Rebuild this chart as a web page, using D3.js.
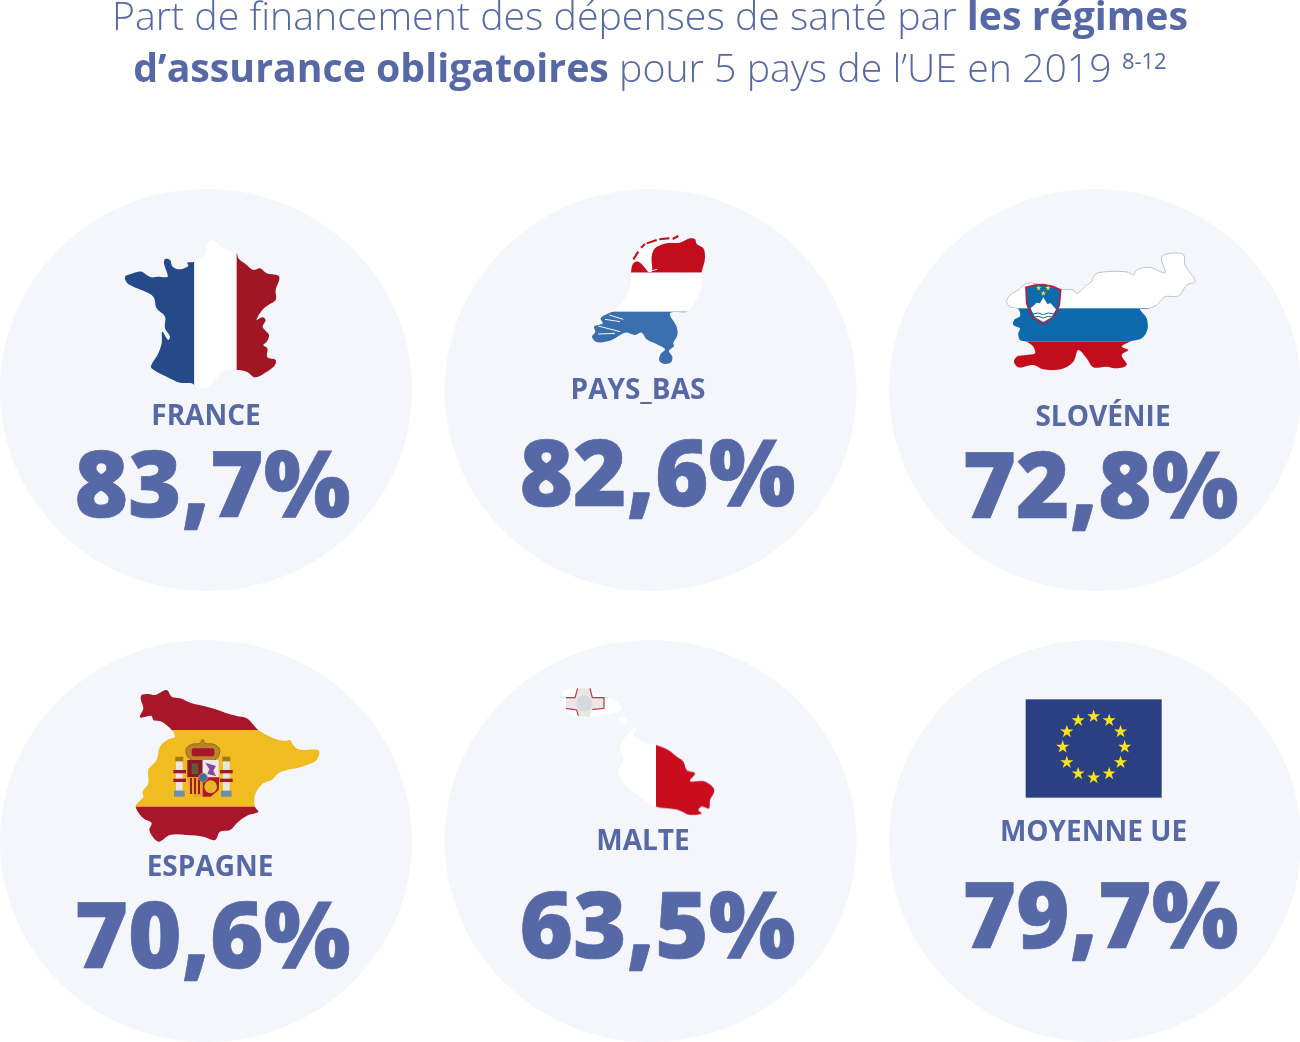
<!DOCTYPE html>
<html lang="fr"><head><meta charset="utf-8">
<script src="https://cdn.jsdelivr.net/npm/d3@7"></script>
<style>html,body{margin:0;padding:0;background:#fff}svg{display:block}text{font-family:"Open Sans",sans-serif}</style>
</head><body><div id="chart"></div>
<script>
// ---------- data ----------
const countries = ["FRANCE","PAYS_BAS","SLOVÉNIE","ESPAGNE","MALTE","MOYENNE UE"];
const shares = [83.7,82.6,72.8,70.6,63.5,79.7];
const titleLine1 = [["Part de financement des dépenses de santé par ",300],["les régimes",700]];
const titleLine2 = [["d’assurance obligatoires",700],[" pour 5 pays de l’UE en 2019 ",300]];
const titleRef = "8-12";

// ---------- layout (separate from the data) ----------
const W=1300,H=1042, INK="#5669a6", DISC="#f4f6fb";
const col=d3.scalePoint().domain([0,1,2]).range([206,1095]);
const row=d3.scalePoint().domain([0,1]).range([390,841]);
const labelPos=[[206,425],[638,399],[1103,426],[210,876],[643,850],[1093.5,841]];
const valuePos=[[212.5,517],[657.5,506],[1100.5,518],[212.5,968],[657.5,958],[1100.5,948]];

// ---------- silhouettes, traced in 3x crop space ----------
const franceOutline=[[75,170],[90,163],[125,155],[140,165],[155,172],[175,170],[195,172],[203,170],[192,130],[195,117],[210,120],[218,140],[240,148],[265,137],[262,128],[283,125],[318,100],[320,72],[340,60],[355,72],[375,88],[410,100],[415,115],[440,135],[460,150],[480,145],[500,160],[538,170],[527,210],[527,240],[505,255],[485,272],[470,300],[488,292],[497,300],[488,320],[507,345],[500,365],[490,375],[502,385],[502,412],[527,420],[525,435],[490,462],[465,472],[440,455],[410,450],[370,455],[345,480],[320,505],[290,500],[275,490],[240,488],[200,470],[165,452],[153,442],[175,400],[185,370],[187,335],[205,360],[210,350],[195,325],[195,290],[170,265],[160,230],[130,212],[100,200],[82,190]];
const nlOutline=[[183,158],[190,130],[205,125],[222,140],[235,155],[245,155],[245,110],[255,85],[290,70],[330,68],[360,55],[375,58],[380,72],[400,85],[405,115],[395,158],[395,190],[385,225],[365,260],[350,275],[300,280],[320,320],[322,345],[310,370],[312,378],[297,393],[307,410],[303,427],[285,432],[268,422],[272,402],[285,388],[265,375],[230,358],[215,338],[195,345],[165,338],[125,360],[80,366],[66,350],[76,335],[72,320],[98,310],[92,295],[125,276],[135,272],[170,225],[183,190]];
const nlInland=[[205,125],[210,90],[250,80],[245,110],[245,155],[235,155],[222,140]];
const nlIslands=[[[190,118],[205,95]],[[213,83],[225,72]],[[230,70],[260,60]],[[268,58],[298,55]],[[308,57],[325,48]]];
const nlWater=[[[105,298],[150,305]],[[118,285],[160,298]],[[85,318],[150,335]],[[85,342],[135,340]],[[235,155],[262,148]]];
const siOutline=[[50,185],[60,165],[85,150],[110,130],[150,133],[210,148],[250,150],[260,160],[290,135],[305,125],[315,103],[350,95],[415,97],[430,105],[440,90],[480,82],[525,98],[515,50],[580,43],[585,75],[615,125],[590,135],[570,165],[555,170],[525,170],[500,195],[470,207],[450,207],[470,235],[472,270],[455,295],[420,305],[395,320],[415,330],[395,345],[410,375],[380,385],[350,380],[310,382],[290,355],[265,330],[250,365],[215,387],[160,388],[130,375],[85,382],[72,365],[80,350],[110,345],[135,340],[130,320],[110,305],[90,300],[85,280],[90,265],[70,255],[72,240],[90,228],[85,207],[60,200]];
const siShield=[[108,142],[135,135],[160,134],[190,140],[212,150],[208,195],[195,225],[160,253],[125,230],[110,190]];
const siPeak=[[122,205],[140,188],[150,190],[160,172],[172,192],[182,190],[198,208],[185,232],[160,246],[135,232]];
const esOutline=[[65,45],[85,42],[105,45],[140,30],[155,50],[180,55],[215,70],[260,80],[300,92],[320,100],[350,108],[380,115],[415,150],[440,165],[470,178],[495,183],[510,180],[520,195],[535,208],[597,212],[590,240],[560,255],[530,265],[500,270],[475,280],[455,300],[430,310],[405,345],[405,380],[415,395],[385,405],[355,425],[330,450],[300,455],[285,480],[250,470],[200,465],[150,465],[115,485],[88,450],[95,430],[70,415],[48,385],[48,375],[70,350],[68,335],[85,310],[85,270],[110,240],[120,200],[145,178],[165,170],[155,150],[125,125],[100,120],[95,108],[60,112],[70,85],[62,55]];
const esCrown=[[198,208],[215,193],[240,190],[248,178],[256,190],[282,193],[299,208],[288,238],[210,238]];
const mtMain=[[195,215],[225,170],[245,155],[235,180],[265,200],[303,210],[340,225],[365,245],[385,260],[395,285],[420,295],[405,318],[450,320],[478,345],[465,375],[462,400],[440,395],[430,405],[440,415],[405,420],[370,405],[303,395],[260,370],[215,335],[190,290],[205,255]];
const mtComino=[[190,130],[210,128],[218,140],[200,148]];
const mtGozo=[[25,50],[60,40],[150,65],[185,80],[200,105],[170,115],[120,125],[60,125],[30,100]];
const mtCross=[[68,40],[105,40],[110,68],[147,68],[147,100],[110,105],[105,125],[70,125],[65,105],[33,100],[33,68],[60,68]];
const mtCrossRed=[[[33,68],[60,68],[68,40]],[[105,40],[112,68],[147,68],[147,100],[112,104]],[[33,100],[65,105],[70,122]]];

const svg=d3.select("#chart").append("svg").attr("width",W).attr("height",H).attr("viewBox",[0,0,W,H]);
const defs=svg.append("defs");
defs.append("filter").attr("id","soft").attr("x","-5%").attr("y","-5%").attr("width","110%").attr("height","110%")
  .append("feGaussianBlur").attr("stdDeviation",1.4);
const poly=d3.line().curve(d3.curveCatmullRomClosed.alpha(0.5)), open=d3.line();
const straight=d3.line().curve(d3.curveLinearClosed);

// discs
const idx=d3.range(countries.length);
svg.selectAll("ellipse.disc").data(idx).join("ellipse").attr("class","disc")
  .attr("cx",i=>col(i%3)).attr("cy",i=>row(Math.floor(i/3))).attr("rx",206).attr("ry",201).attr("fill",DISC);

// places a crop-space layer at an image origin
const layer=(x,y)=>svg.append("g").attr("transform",`translate(${x},${y}) scale(${1/3})`).attr("filter","url(#soft)");
function striped(g,id,outline,bands,axis){
  defs.append("clipPath").attr("id",id).append("path").attr("d",poly(outline));
  const c=g.append("g").attr("clip-path",`url(#${id})`);
  bands.forEach(([a,b,f])=>{
    const r=c.append("rect");
    if(axis==="x") r.attr("x",a).attr("width",b-a).attr("y",0).attr("height",600);
    else r.attr("y",a).attr("height",b-a).attr("x",0).attr("width",700);
    r.attr("fill",f);
  });
  return c;
}

// France
const fr=layer(100,220);
striped(fr,"c-fr",franceOutline,[[0,283,"#254a89"],[283,410,"#ffffff"],[410,700,"#a01420"]],"x");

// Netherlands
const nl=layer(570,220);
nl.append("path").attr("d",straight(nlInland)).attr("fill","#ffffff");
striped(nl,"c-nl",nlOutline,[[0,158,"#c40a1b"],[158,275,"#ffffff"],[275,600,"#3b6ead"]],"y");
nl.selectAll("path.isle").data(nlIslands).join("path").attr("class","isle").attr("d",open).attr("fill","none").attr("stroke","#c40a1b").attr("stroke-width",6);
nl.selectAll("path.water").data(nlWater).join("path").attr("class","water").attr("d",open).attr("fill","none").attr("stroke",DISC).attr("stroke-width",3);

// Slovenia
const si=layer(990,240);
striped(si,"c-si",siOutline,[[0,205,"#ffffff"],[205,305,"#0a6aac"],[305,600,"#c40a1b"]],"y");
defs.append("clipPath").attr("id","c-si-top").append("rect").attr("x",0).attr("y",0).attr("width",700).attr("height",205);
si.append("g").attr("clip-path","url(#c-si-top)").append("path").attr("d",poly(siOutline)).attr("fill","none").attr("stroke","#bfc2c8").attr("stroke-width",3);
si.append("path").attr("d",straight(siShield)).attr("fill","#0a6aac").attr("stroke","#b3213f").attr("stroke-width",5);
si.append("path").attr("d",straight(siPeak)).attr("fill","#ffffff");
si.selectAll("path.wave").data([222,232]).join("path").attr("class","wave")
  .attr("d",y=>open([[128,y],[145,y-3],[160,y+2],[175,y-3],[192,y]])).attr("fill","none").attr("stroke","#0a6aac").attr("stroke-width",3);
si.selectAll("path.star").data([[146,144],[174,144],[160,160]]).join("path").attr("class","star")
  .attr("transform",d=>`translate(${d})`).attr("d",d3.symbol(d3.symbolStar,90)).attr("fill","#f2dc3c");

// Spain
const es=layer(120,680);
striped(es,"c-es",esOutline,[[0,150,"#a8122a"],[150,380,"#f1bc22"],[380,600,"#a8122a"]],"y");
es.append("path").attr("d",poly(esCrown)).attr("fill","#b8862c").attr("stroke","#8f6a1e").attr("stroke-width",3);
es.append("rect").attr("x",215).attr("y",205).attr("width",68).attr("height",24).attr("rx",6).attr("fill","#a8122a");
es.selectAll("rect.pillar").data([168,309]).join("rect").attr("class","pillar").attr("x",d=>d).attr("y",242).attr("width",20).attr("height",90).attr("fill","#e6e6e6");
es.selectAll("rect.cap").data([166,307]).join("rect").attr("class","cap").attr("x",d=>d).attr("y",230).attr("width",24).attr("height",14).attr("fill","#a9761f");
es.selectAll("rect.base").data([162,303]).join("rect").attr("class","base").attr("x",d=>d).attr("y",332).attr("width",32).attr("height",18).attr("fill","#6f8fa8");
es.selectAll("rect.band").data([160,160,300,300]).join("rect").attr("class","band").attr("x",d=>d).attr("y",(d,i)=>i%2?296:270).attr("width",38).attr("height",10).attr("fill","#a8122a");
es.append("rect").attr("x",202).attr("y",240).attr("width",46).attr("height",52).attr("fill","#8f1626");
es.append("rect").attr("x",248).attr("y",240).attr("width",48).attr("height",52).attr("fill","#ece6ee");
es.append("path").attr("d",straight([[256,248],[288,258],[280,272],[288,288],[262,282],[268,268]])).attr("fill","#8a4a8e");
es.append("rect").attr("x",215).attr("y",250).attr("width",20).attr("height",32).attr("fill","#5f5a3a");
es.append("path").attr("d",straight([[202,292],[248,292],[248,350],[225,350],[208,335]])).attr("fill","#e2a92c");
es.selectAll("rect.pale").data([210,222,234]).join("rect").attr("class","pale").attr("x",d=>d).attr("y",294).attr("width",6).attr("height",48).attr("fill","#a8122a");
es.append("path").attr("d",straight([[248,292],[298,292],[296,330],[272,350],[248,350]])).attr("fill","#b5182a");
es.append("circle").attr("cx",272).attr("cy",320).attr("r",19).attr("fill","#e9b82a");
es.append("circle").attr("cx",249).attr("cy",293).attr("r",13).attr("fill","#3d6ea8").attr("stroke","#b58b2a").attr("stroke-width",3);

// Malta
const mt=layer(555,675);
mt.selectAll("path.wh").data([mtComino,mtGozo]).join("path").attr("class","wh").attr("d",poly).attr("fill","#ffffff");
striped(mt,"c-mt",mtMain,[[0,303,"#ffffff"],[303,700,"#c8081c"]],"x");
mt.append("path").attr("d",straight(mtCross)).attr("fill","#e8e8e8");
mt.append("circle").attr("cx",88).attr("cy",85).attr("r",24).attr("fill","#d5d8dc");
mt.selectAll("path.cr").data(mtCrossRed).join("path").attr("class","cr").attr("d",open).attr("fill","none").attr("stroke","#c0303c").attr("stroke-width",3.5);

// EU flag
const eu=layer(1015,690);
eu.append("rect").attr("x",32).attr("y",28).attr("width",408).attr("height",295).attr("fill","#2a3f83");
const ring=d3.range(12).map(i=>i*Math.PI/6);
eu.selectAll("path.star").data(ring).join("path").attr("class","star")
  .attr("transform",a=>`translate(${236+93*Math.sin(a)},${171-92*Math.cos(a)})`)
  .attr("d",d3.symbol(d3.symbolStar,480)).attr("fill","#f8e31c");

// labels and values
svg.selectAll("text.label").data(idx).join("text").attr("class","label")
  .attr("x",i=>labelPos[i][0]).attr("y",i=>labelPos[i][1]).attr("text-anchor","middle")
  .attr("font-size",28).attr("font-weight",700).attr("fill",INK).text(i=>countries[i]);
svg.selectAll("text.value").data(idx).join("text").attr("class","value")
  .attr("x",i=>valuePos[i][0]).attr("y",i=>valuePos[i][1]).attr("text-anchor","middle")
  .attr("font-size",91.6).attr("font-weight",800).attr("fill",INK).attr("stroke",INK).attr("stroke-width",0.7).attr("stroke-linejoin","miter")
  .text(i=>d3.format(".1f")(shares[i]).replace(".",",")+"%");

// title
const t1=svg.append("text").attr("x",650).attr("y",30).attr("text-anchor","middle").attr("font-size",39.25).attr("fill",INK).attr("xml:space","preserve");
titleLine1.forEach(([s,w])=>t1.append("tspan").attr("font-weight",w).text(s));
const t2=svg.append("text").attr("x",650).attr("y",82).attr("text-anchor","middle").attr("font-size",39.25).attr("fill",INK).attr("xml:space","preserve");
titleLine2.forEach(([s,w])=>t2.append("tspan").attr("font-weight",w).text(s));
t2.append("tspan").attr("font-size",22).attr("font-weight",400).attr("dy",-13).text(titleRef);
</script></body></html>
